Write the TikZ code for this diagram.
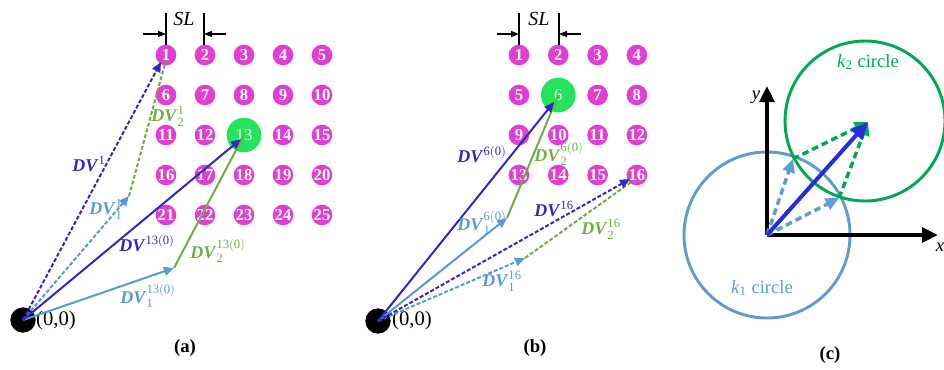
\documentclass[tikz,border=0pt]{standalone}
\usepackage{amsmath, amssymb}
\usepackage{fontspec}
\setmainfont{Liberation Serif}
\usepackage{xcolor}
\usepackage{tikz}
\usetikzlibrary{arrows.meta}

\definecolor{dvdark}{RGB}{50,38,196}
\definecolor{dvlight}{RGB}{88,154,214}
\definecolor{dvgreen}{RGB}{112,173,71}
\definecolor{dotpink}{RGB}{226,62,212}
\definecolor{dothot}{RGB}{36,228,92}
\definecolor{kone}{RGB}{96,156,212}
\definecolor{ktwo}{RGB}{0,168,82}
\definecolor{vblue}{RGB}{36,44,220}

\newcommand{\dvlab}[2]{\textbf{\textit{DV}}$^{\mathrm{#1}}_{\mathrm{#2}}$}

\begin{document}
\begin{tikzpicture}[x=0.75pt, y=-0.75pt, font=\fontsize{13}{15}\selectfont,
    dot/.style={circle, fill=dotpink, inner sep=0pt, minimum size=15.5pt, text=white, font=\bfseries\fontsize{12.5}{12.5}\selectfont},
    hot/.style={dot, fill=dothot, minimum size=26pt, font=\fontsize{12.5}{12.5}\selectfont},
    origin/.style={circle, fill=black, inner sep=0pt, minimum size=19pt},
    vec/.style={line width=1.5pt, -{Triangle[length=7.5pt,width=6.5pt]}},
    seg/.style={line width=1.5pt},
    dsh/.style={dash pattern=on 3pt off 1.5pt},
    dim/.style={line width=0.9pt, -{Triangle[length=6pt,width=4.5pt]}},
    lab/.style={font=\fontsize{13.5}{15}\selectfont}]
    \useasboundingbox (0,0) rectangle (944,369);

    % ---------------- (a) ----------------
    % Grid of points
    \foreach \n in {1,...,25} {
        \pgfmathtruncatemacro{\col}{mod(\n-1,5)}
        \pgfmathtruncatemacro{\row}{div(\n-1,5)}
        \ifnum\n=13 \def\sty{hot}\else\def\sty{dot}\fi
        \node[style=\sty] (a\n) at (166+39*\col, 55+40*\row) {\n};
    }

    % Spacing SL
    \coordinate (sa1) at (166,13); \coordinate (sa1b) at (166,45);
    \coordinate (sa2) at (204,13); \coordinate (sa2b) at (204,45);
    \coordinate (sa1l) at (143,34); \coordinate (sa1r) at (166,34);
    \coordinate (sa2r) at (226,34); \coordinate (sa2l) at (204,34);
    \draw[line width=0.9pt] (sa1) -- (sa1b);
    \draw[line width=0.9pt] (sa2) -- (sa2b);
    \draw[dim] (sa1l) -- (sa1r);
    \draw[dim] (sa2r) -- (sa2l);
    \node[lab, font=\itshape\fontsize{15}{17}\selectfont] (slA) at (184,19) {SL};

    % Origin
    \node[origin] (oA) at (23,320) {};
    \node[lab, font=\fontsize{15.5}{17}\selectfont] (zeroA) at (56,321) {(0,0)};

    % Vectors
    \coordinate (mA1) at (129,196);
    \coordinate (mA13) at (174,268);
    \coordinate (tA1) at (161,62);
    \coordinate (tA1g) at (166,60);
    \coordinate (tA13) at (241,139);
    \draw[vec, dvlight, dsh] (oA.center) -- (mA1);
    \draw[seg, dvgreen, dsh] (mA1) -- (tA1g);
    \draw[vec, dvdark, dsh] (oA.center) -- (tA1);
    \draw[vec, dvlight] (oA.center) -- (mA13);
    \draw[seg, dvgreen] (mA13) -- (a13.center);
    \draw[vec, dvdark] (oA.center) -- (tA13);

    % Labels
    \node[lab, dvdark] (lA1) at (89,166) {\dvlab{1}{}};
    \node[lab, dvgreen] (lA12) at (168,116) {\dvlab{1}{2}};
    \node[lab, dvlight] (lA11) at (106,209) {\dvlab{1}{1}};
    \node[lab, dvdark] (lA13) at (147,246) {\dvlab{13(0)}{}};
    \node[lab, dvgreen] (lA132) at (218,251) {\dvlab{13(0)}{2}};
    \node[lab, dvlight] (lA131) at (148,296) {\dvlab{13(0)}{1}};
    \node[lab, font=\bfseries\fontsize{14}{16}\selectfont] (capA) at (185,348) {(a)};

    % ---------------- (b) ----------------
    \foreach \n in {1,...,16} {
        \pgfmathtruncatemacro{\col}{mod(\n-1,4)}
        \pgfmathtruncatemacro{\row}{div(\n-1,4)}
        \ifnum\n=6 \def\sty{hot}\else\def\sty{dot}\fi
        \node[style=\sty] (b\n) at (519+39.3*\col, 55+40*\row) {\n};
    }

    % Spacing SL
    \coordinate (sb1) at (519,13); \coordinate (sb1b) at (519,45);
    \coordinate (sb2) at (559,13); \coordinate (sb2b) at (559,45);
    \coordinate (sb1l) at (497,34); \coordinate (sb1r) at (519,34);
    \coordinate (sb2r) at (581,34); \coordinate (sb2l) at (559,34);
    \draw[line width=0.9pt] (sb1) -- (sb1b);
    \draw[line width=0.9pt] (sb2) -- (sb2b);
    \draw[dim] (sb1l) -- (sb1r);
    \draw[dim] (sb2r) -- (sb2l);
    \node[lab, font=\itshape\fontsize{15}{17}\selectfont] (slB) at (539,19) {SL};

    % Origin
    \node[origin] (oB) at (378,321) {};
    \node[lab, font=\fontsize{15.5}{17}\selectfont] (zeroB) at (412,321) {(0,0)};

    % Vectors
    \coordinate (mB6) at (507,218);
    \coordinate (mB16) at (525,258);
    \coordinate (tB6) at (554,102);
    \coordinate (tB16) at (630,179);
    \coordinate (tB16g) at (634,180);
    \draw[vec, dvlight] (oB.center) -- (mB6);
    \draw[seg, dvgreen] (mB6) -- (b6.center);
    \draw[vec, dvdark] (oB.center) -- (tB6);
    \draw[vec, dvlight, dsh] (oB.center) -- (mB16);
    \draw[seg, dvgreen, dsh] (mB16) -- (tB16g);
    \draw[vec, dvdark, dsh] (oB.center) -- (tB16);

    % Labels
    \node[lab, dvdark] (lB6) at (482,157) {\dvlab{6(0)}{}};
    \node[lab, dvgreen] (lB62) at (559,154) {\dvlab{6(0)}{2}};
    \node[lab, dvlight] (lB61) at (482,223) {\dvlab{6(0)}{1}};
    \node[lab, dvdark] (lB16) at (554,211) {\dvlab{16}{}};
    \node[lab, dvgreen] (lB162) at (601,229) {\dvlab{16}{2}};
    \node[lab, dvlight] (lB161) at (502,281) {\dvlab{16}{1}};
    \node[lab, font=\bfseries\fontsize{14}{16}\selectfont] (capB) at (535,348) {(b)};

    % ---------------- (c) ----------------
    \coordinate (oC) at (767,235);
    \coordinate (yC) at (767,86);
    \coordinate (xC) at (938,235);
    \coordinate (kC2) at (865,121);
    \coordinate (tC) at (868,122);
    \coordinate (cC1) at (793,159);
    \coordinate (cC2) at (839,198);

    % Circles
    \draw[kone, line width=2.2pt] (oC) circle[radius=83];
    \draw[ktwo, line width=2.2pt] (kC2) circle[radius=80];
    \node[kone, font=\fontsize{14}{16}\selectfont] (k1lab) at (762,288) {\textit{k}\textsubscript{1} circle};
    \node[ktwo, font=\fontsize{14}{16}\selectfont] (k2lab) at (868,62) {\textit{k}\textsubscript{2} circle};

    % Axes
    \draw[line width=3pt, -{Triangle[length=12pt,width=11pt]}] (oC) -- (yC);
    \draw[line width=3pt, -{Triangle[length=12pt,width=11pt]}] (oC) -- (xC);
    \node[lab, font=\itshape\fontsize{14}{16}\selectfont] (ylab) at (756,97) {y};
    \node[lab, font=\itshape\fontsize{14}{16}\selectfont] (xlab) at (940,247) {x};

    % Vectors
    \draw[kone, line width=2.6pt, dash pattern=on 5pt off 3pt, -{Triangle[length=10pt,width=9pt]}] (oC) -- (cC1);
    \draw[kone, line width=2.6pt, dash pattern=on 5pt off 3pt, -{Triangle[length=10pt,width=9pt]}] (oC) -- (cC2);
    \draw[ktwo, line width=2.6pt, dash pattern=on 5pt off 3pt, -{Triangle[length=10pt,width=9pt]}] (cC1) -- (tC);
    \draw[ktwo, line width=2.6pt, dash pattern=on 5pt off 3pt, -{Triangle[length=10pt,width=9pt]}] (cC2) -- (tC);
    \draw[vblue, line width=3pt, -{Triangle[length=13pt,width=11pt]}] (oC) -- (tC);
    \node[lab, font=\bfseries\fontsize{14}{16}\selectfont] (capC) at (830,355) {(c)};
\end{tikzpicture}
\end{document}
